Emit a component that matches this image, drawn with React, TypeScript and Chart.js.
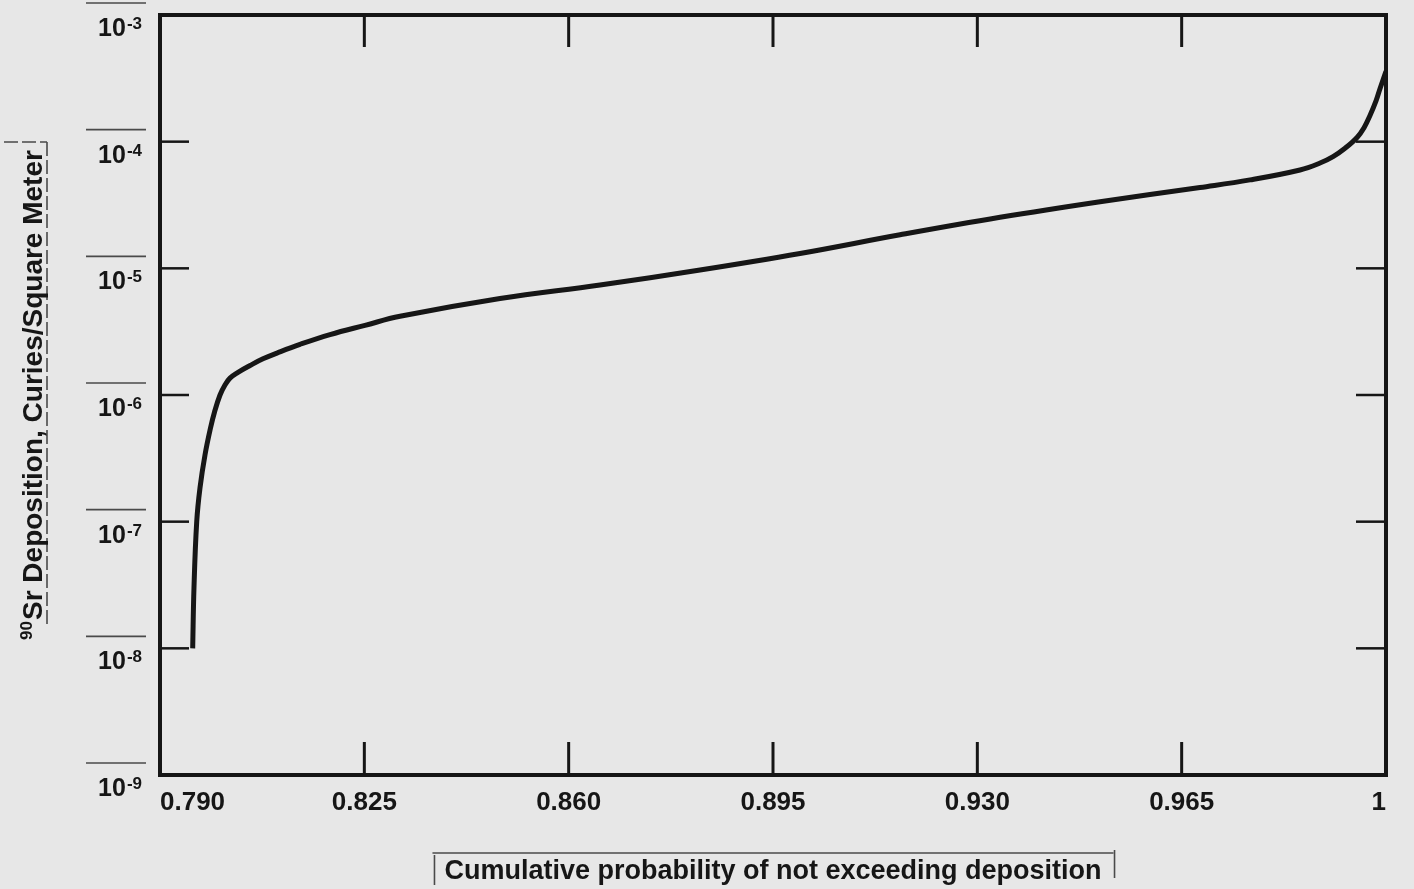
import React, { useEffect, useRef } from "react";
import { Chart, registerables } from "chart.js";

Chart.register(...registerables);

// Cumulative probability (x) and 90Sr deposition in Ci/m^2 (y)
const probability = [
  0.7956, 0.79582, 0.79629, 0.79685, 0.79771, 0.79865, 0.79934, 0.80028,
  0.80113, 0.80199, 0.80336, 0.80542, 0.80764, 0.81021, 0.81398, 0.81912,
  0.82511, 0.83111, 0.84824, 0.86537, 0.8825, 0.89963, 0.91676, 0.93389,
  0.95102, 0.96814, 0.97671, 0.98527, 0.9887, 0.99093, 0.99298, 0.99504,
  0.99624, 0.99726, 0.99829, 0.99897, 1.0,
];
const deposition = [
  1.0e-8, 3.01e-8, 1.0e-7, 1.85e-7, 3.37e-7, 5.49e-7, 7.35e-7, 1.0e-6,
  1.2e-6, 1.36e-6, 1.51e-6, 1.71e-6, 1.93e-6, 2.16e-6, 2.51e-6, 3.0e-6,
  3.55e-6, 4.18e-6, 5.77e-6, 7.38e-6, 9.7e-6, 1.31e-5, 1.84e-5, 2.53e-5,
  3.36e-5, 4.35e-5, 4.99e-5, 5.98e-5, 6.78e-5, 7.62e-5, 8.87e-5, 1.08e-4,
  1.29e-4, 1.61e-4, 2.1e-4, 2.62e-4, 3.6e-4,
];

const xTickValues = [0.79, 0.825, 0.86, 0.895, 0.93, 0.965, 1.0];
const xTickLabels = ["0.790", "0.825", "0.860", "0.895", "0.930", "0.965", "1"];
const yTickValues = [1e-9, 1e-8, 1e-7, 1e-6, 1e-5, 1e-4, 1e-3];
const yTickBase = "10";
const yTickExponents = ["-9", "-8", "-7", "-6", "-5", "-4", "-3"];

const xTitle = "Cumulative probability of not exceeding deposition";
const yTitleSup = "90";
const yTitleMain = "Sr Deposition, Curies/Square Meter";

const BG = "#e7e7e7";
const INK = "#161616";
const FAINT = "#4a4a4a";
const FONT = "'Liberation Sans', Arial, sans-serif";
const Y_LABEL_OFFSET = 12;

const decorPlugin = {
  id: "decor",
  beforeDraw(chart: any) {
    const { ctx, width, height } = chart;
    ctx.save();
    ctx.fillStyle = BG;
    ctx.fillRect(0, 0, width, height);
    ctx.restore();
  },
  afterDatasetsDraw(chart: any) {
    const { ctx, chartArea: a, scales } = chart;
    const xs = scales.x;
    const ys = scales.y;
    const seg = (x1: number, y1: number, x2: number, y2: number) => {
      ctx.beginPath();
      ctx.moveTo(x1, y1);
      ctx.lineTo(x2, y2);
      ctx.stroke();
    };
    ctx.save();
    ctx.strokeStyle = INK;
    ctx.lineCap = "butt";
    ctx.lineWidth = 3;
    xTickValues.slice(1, -1).forEach((v) => {
      const px = xs.getPixelForValue(v);
      seg(px, a.top, px, a.top + 32);
      seg(px, a.bottom, px, a.bottom - 33);
    });
    ctx.lineWidth = 2.5;
    yTickValues.slice(1, -1).forEach((v) => {
      const py = ys.getPixelForValue(v);
      seg(a.left, py, a.left + 29, py);
      seg(a.right, py, a.right - 30, py);
    });
    ctx.lineWidth = 4;
    ctx.strokeRect(a.left, a.top, a.right - a.left, a.bottom - a.top);
    ctx.restore();
  },
  afterDraw(chart: any) {
    const { ctx, chartArea: a, scales } = chart;
    const ys = scales.y;
    const seg = (x1: number, y1: number, x2: number, y2: number) => {
      ctx.beginPath();
      ctx.moveTo(x1, y1);
      ctx.lineTo(x2, y2);
      ctx.stroke();
    };
    const labelRight = a.left - 18;

    // y tick labels: 10 with raised exponent, placed from the log scale
    ctx.save();
    ctx.fillStyle = INK;
    ctx.textBaseline = "alphabetic";
    ctx.textAlign = "left";
    yTickValues.forEach((v, i) => {
      const center = ys.getPixelForValue(v) + Y_LABEL_OFFSET;
      const base = center + 9;
      ctx.font = `bold 17px ${FONT}`;
      const wExp = ctx.measureText(yTickExponents[i]).width;
      ctx.font = `bold 25px ${FONT}`;
      const wBase = ctx.measureText(yTickBase).width;
      const x0 = labelRight - wExp - 1 - wBase;
      ctx.fillText(yTickBase, x0, base);
      ctx.font = `bold 17px ${FONT}`;
      ctx.fillText(yTickExponents[i], x0 + wBase + 1, base - 7);
    });
    ctx.restore();

    ctx.save();
    // bars above the y tick labels
    ctx.strokeStyle = FAINT;
    ctx.lineWidth = 1.6;
    yTickValues.forEach((v) => {
      const py = ys.getPixelForValue(v) + Y_LABEL_OFFSET - 24;
      seg(labelRight - 56, py, labelRight + 4, py);
    });
    // frame around the x title
    ctx.font = `bold 27px ${FONT}`;
    const w = ctx.measureText(xTitle).width;
    const cx = (a.left + a.right) / 2;
    const x1 = cx - w / 2 - 12;
    const x2 = cx + w / 2 + 12;
    const ty = 853;
    seg(x1, ty, x2, ty);
    seg(x1 + 2, ty + 2, x1 + 2, ty + 32);
    seg(x2 + 1, ty - 3, x2 + 1, ty + 25);
    // dashed line beside the y title
    ctx.setLineDash([14, 4]);
    seg(47, 142, 47, 628);
    seg(4, 142, 47, 142);
    ctx.setLineDash([]);
    ctx.restore();

    // y axis title with superscript mass number
    ctx.save();
    ctx.translate(31, (a.top + a.bottom) / 2);
    ctx.rotate(-Math.PI / 2);
    ctx.fillStyle = INK;
    ctx.textBaseline = "alphabetic";
    ctx.textAlign = "left";
    ctx.font = `bold 28px ${FONT}`;
    const wMain = ctx.measureText(yTitleMain).width;
    ctx.font = `bold 17px ${FONT}`;
    const wSup = ctx.measureText(yTitleSup).width;
    const start = -(wMain + wSup + 1) / 2;
    ctx.fillText(yTitleSup, start, 1);
    ctx.font = `bold 28px ${FONT}`;
    ctx.fillText(yTitleMain, start + wSup + 1, 11);
    ctx.restore();
  },
};

export default function App() {
  const canvasRef = useRef<HTMLCanvasElement | null>(null);

  useEffect(() => {
    const canvas = canvasRef.current;
    if (!canvas) return;
    const points = probability.map((p, i) => ({ x: p, y: deposition[i] }));
    const chart = new Chart(canvas, {
      type: "line",
      data: {
        datasets: [
          {
            data: points,
            borderColor: INK,
            borderWidth: 5,
            borderCapStyle: "butt",
            borderJoinStyle: "round",
            pointRadius: 0,
            tension: 0.4,
            fill: false,
          },
        ],
      },
      options: {
        responsive: false,
        animation: false,
        devicePixelRatio: 1,
        layout: { padding: { left: 0, top: 15, right: 28, bottom: 0 } },
        plugins: { legend: { display: false }, tooltip: { enabled: false } },
        scales: {
          x: {
            type: "linear",
            min: 0.79,
            max: 1.0,
            afterBuildTicks: (scale: any) => {
              scale.ticks = xTickValues.map((v) => ({ value: v }));
            },
            afterFit: (scale: any) => {
              scale.height = 114;
              scale.paddingLeft = 0;
              scale.paddingRight = 0;
            },
            grid: { display: false, drawTicks: false },
            border: { display: false },
            ticks: {
              align: "inner",
              padding: 12,
              color: INK,
              font: { family: FONT, size: 26, weight: "bold" },
              maxRotation: 0,
              autoSkip: false,
              callback: (_v: any, i: number) => xTickLabels[i],
            },
            title: {
              display: true,
              text: xTitle,
              color: INK,
              font: { family: FONT, size: 27, weight: "bold" },
              padding: { top: 0, bottom: 1 },
            },
          },
          y: {
            type: "logarithmic",
            min: 1e-9,
            max: 1e-3,
            afterBuildTicks: (scale: any) => {
              scale.ticks = yTickValues.map((v) => ({ value: v }));
            },
            afterFit: (scale: any) => {
              scale.width = 160;
              scale.paddingTop = 0;
              scale.paddingBottom = 0;
            },
            grid: { display: false, drawTicks: false },
            border: { display: false },
            ticks: { display: false },
            title: { display: false },
          },
        },
      },
      plugins: [decorPlugin],
    } as any);
    return () => chart.destroy();
  }, []);

  return (
    <div
      style={{
        position: "absolute",
        left: 0,
        top: 0,
        width: 1414,
        height: 889,
        background: BG,
      }}
    >
      <canvas
        ref={canvasRef}
        width={1414}
        height={889}
        style={{ display: "block", width: 1414, height: 889 }}
      />
    </div>
  );
}
